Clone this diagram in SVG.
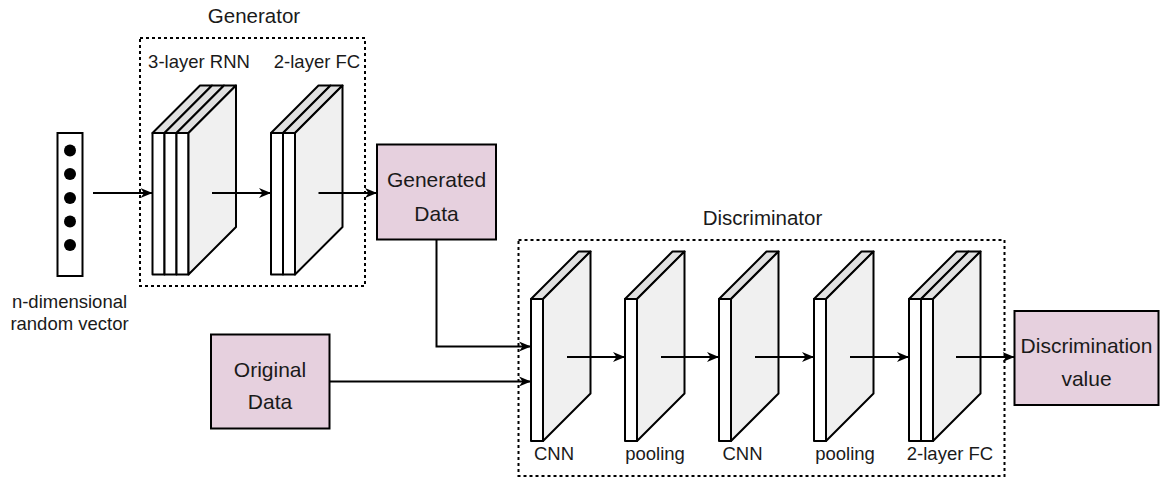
<svg xmlns="http://www.w3.org/2000/svg" width="1161" height="480" viewBox="0 0 1161 480">
<defs>
<style>
text{font-family:"Liberation Sans",Arial,Helvetica,sans-serif;fill:#1a1a1a;text-anchor:middle}
.lbl{font-size:18.5px}
.ttl{font-size:20.5px}
.bx{font-size:21px}
.front{fill:#ffffff;stroke:#000;stroke-width:2;stroke-linejoin:round}
.top{fill:#e0e0e0;stroke:#000;stroke-width:2;stroke-linejoin:round}
.side{fill:#f0f0f0;stroke:#000;stroke-width:2;stroke-linejoin:round}
.box{fill:#e6d0de;stroke:#000;stroke-width:2}
.group{fill:none;stroke:#000;stroke-width:2;stroke-dasharray:3 3}
.conn{fill:none;stroke:#000;stroke-width:2;marker-end:url(#arr)}
</style>
<marker id="arr" viewBox="0 0 12 11" refX="12" refY="5.5" markerWidth="12" markerHeight="11" markerUnits="userSpaceOnUse" orient="auto">
<path d="M0,0.5 L12,5.5 L0,10.5 L3.5,5.5 z" fill="#000"/>
</marker>
</defs>
<rect width="1161" height="480" fill="#fff"/>

<g id="generator-group">
<rect class="group" x="140" y="38" width="225" height="248"/>
<text class="ttl" x="254" y="22.5">Generator</text>
</g>

<g id="discriminator-group">
<rect class="group" x="518.5" y="240" width="486" height="236"/>
<text class="ttl" x="762.5" y="225">Discriminator</text>
</g>

<g id="input-vector">
<rect x="57.5" y="133" width="25" height="143" fill="#fff" stroke="#000" stroke-width="2"/>
<circle cx="70" cy="150.5" r="6" fill="#000"/>
<circle cx="70" cy="174" r="6" fill="#000"/>
<circle cx="70" cy="198" r="6" fill="#000"/>
<circle cx="70" cy="221.5" r="6" fill="#000"/>
<circle cx="70" cy="245" r="6" fill="#000"/>
<text class="lbl" x="69.5" y="307.5">n-dimensional</text>
<text class="lbl" x="69.5" y="330">random vector</text>
</g>

<g id="rnn">
<polygon class="top" points="152.5,133 164.5,133 212,85.5 200,85.5"/>
<polygon class="top" points="164.5,133 176.5,133 224,85.5 212,85.5"/>
<polygon class="top" points="176.5,133 188.5,133 236,85.5 224,85.5"/>
<rect class="front" x="152.5" y="133" width="12" height="141.5"/>
<rect class="front" x="164.5" y="133" width="12" height="141.5"/>
<rect class="front" x="176.5" y="133" width="12" height="141.5"/>
<polygon class="side" points="188.5,133 236,85.5 236,227 188.5,274.5"/>
<text class="lbl" x="199" y="67.5">3-layer RNN</text>
</g>

<g id="gen-fc">
<polygon class="top" points="271,133 283,133 330.5,85.5 318.5,85.5"/>
<polygon class="top" points="283,133 295,133 342.5,85.5 330.5,85.5"/>
<rect class="front" x="271" y="133" width="12" height="141.5"/>
<rect class="front" x="283" y="133" width="12" height="141.5"/>
<polygon class="side" points="295,133 342.5,85.5 342.5,227 295,274.5"/>
<text class="lbl" x="317" y="67.5">2-layer FC</text>
</g>

<g id="generated-data">
<rect class="box" x="377" y="144.5" width="119" height="95"/>
<text class="bx" x="436.5" y="187">Generated</text>
<text class="bx" x="436.5" y="220.5">Data</text>
</g>

<g id="original-data">
<rect class="box" x="211" y="334.5" width="118.5" height="94"/>
<text class="bx" x="270" y="376.5">Original</text>
<text class="bx" x="270" y="409">Data</text>
</g>

<g id="cnn1">
<polygon class="top" points="531,299 543,299 590.5,251.5 578.5,251.5"/>
<rect class="front" x="531" y="299" width="12" height="142"/>
<polygon class="side" points="543,299 590.5,251.5 590.5,393.5 543,441"/>
<text class="lbl" x="554" y="460">CNN</text>
</g>

<g id="pooling1">
<polygon class="top" points="625,299 637,299 684.5,251.5 672.5,251.5"/>
<rect class="front" x="625" y="299" width="12" height="142"/>
<polygon class="side" points="637,299 684.5,251.5 684.5,393.5 637,441"/>
<text class="lbl" x="655" y="460">pooling</text>
</g>

<g id="cnn2">
<polygon class="top" points="719,299 731,299 778.5,251.5 766.5,251.5"/>
<rect class="front" x="719" y="299" width="12" height="142"/>
<polygon class="side" points="731,299 778.5,251.5 778.5,393.5 731,441"/>
<text class="lbl" x="742.5" y="460">CNN</text>
</g>

<g id="pooling2">
<polygon class="top" points="814,299 826,299 873.5,251.5 861.5,251.5"/>
<rect class="front" x="814" y="299" width="12" height="142"/>
<polygon class="side" points="826,299 873.5,251.5 873.5,393.5 826,441"/>
<text class="lbl" x="845" y="460">pooling</text>
</g>

<g id="disc-fc">
<polygon class="top" points="909,299 921,299 968.5,251.5 956.5,251.5"/>
<polygon class="top" points="921,299 933,299 980.5,251.5 968.5,251.5"/>
<rect class="front" x="909" y="299" width="12" height="142"/>
<rect class="front" x="921" y="299" width="12" height="142"/>
<polygon class="side" points="933,299 980.5,251.5 980.5,393.5 933,441"/>
<text class="lbl" x="950" y="460">2-layer FC</text>
</g>

<g id="discrimination-value">
<rect class="box" x="1014.5" y="311" width="144" height="94"/>
<text class="bx" x="1086.5" y="352.5">Discrimination</text>
<text class="bx" x="1086.5" y="385.5">value</text>
</g>

<g id="connectors">
<line class="conn" x1="93" y1="193" x2="152.5" y2="193"/>
<line class="conn" x1="212" y1="193" x2="271" y2="193"/>
<line class="conn" x1="318.5" y1="193" x2="377" y2="193"/>
<path class="conn" d="M436.5,239.5 V346.5 H531"/>
<line class="conn" x1="329.5" y1="381.5" x2="531" y2="381.5"/>
<line class="conn" x1="567" y1="357" x2="625" y2="357"/>
<line class="conn" x1="661" y1="357" x2="719" y2="357"/>
<line class="conn" x1="755" y1="357" x2="814" y2="357"/>
<line class="conn" x1="850" y1="357" x2="909" y2="357"/>
<line class="conn" x1="956" y1="357" x2="1014.5" y2="357"/>
</g>
</svg>
